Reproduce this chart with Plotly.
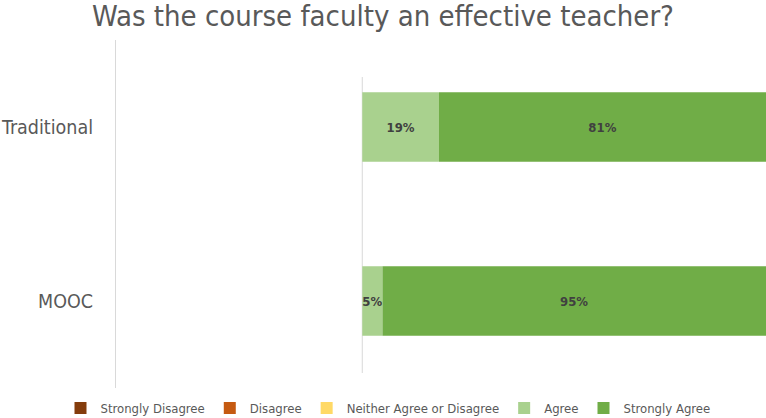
import plotly.graph_objects as go

categories = ["MOOC", "Traditional"]
series_names = ["Strongly Disagree", "Disagree", "Neither Agree or Disagree", "Agree", "Strongly Agree"]
strongly_disagree = [0, 0]
disagree = [0, 0]
neither = [0, 0]
agree = [5, 19]
strongly_agree = [95, 81]
colors = ["#843C0C", "#C55A11", "#FFD966", "#A9D18E", "#70AD47"]

FONT = "DejaVu Sans Condensed, DejaVu Sans, sans-serif"
W, H = 766, 418

values = [
    [-v for v in strongly_disagree],
    [-v for v in disagree],
    [-v for v in neither],
    agree,
    strongly_agree,
]

fig = go.Figure()
for name, vals, col in zip(series_names, values, colors):
    texts = [f"{abs(v)}%" if v != 0 else "" for v in vals]
    fig.add_trace(go.Bar(
        y=categories, x=vals, name=name, orientation="h",
        marker=dict(color=col, line=dict(width=0)),
        text=texts, textposition="inside", insidetextanchor="middle",
        textangle=0, constraintext="none",
        textfont=dict(family=FONT, size=13, color="#404040", weight="bold"),
        hoverinfo="skip",
    ))

fig.add_shape(type="line", xref="x", yref="paper", x0=0, x1=0,
              y0=15/348, y1=311/348, line=dict(color="#D9D9D9", width=1), layer="below")

fig.update_layout(
    width=W, height=H,
    barmode="relative", bargap=0.6,
    plot_bgcolor="white", paper_bgcolor="white",
    margin=dict(l=116, r=0, t=40, b=30, autoexpand=False),
    title=dict(text="Was the course faculty an effective teacher?",
               x=383/W, xref="container", xanchor="center",
               y=1 - 16/H, yref="container", yanchor="middle",
               font=dict(family=FONT, size=29, color="#595959")),
    xaxis=dict(range=[-61, 100], showgrid=False, showticklabels=False, ticks="",
               zeroline=False, fixedrange=True),
    yaxis=dict(showgrid=False, showline=True, linecolor="#D9D9D9", linewidth=1,
               ticks="", ticklabelstandoff=18, fixedrange=True,
               tickfont=dict(family=FONT, size=19.5, color="#595959")),
    legend=dict(orientation="h", xref="container", yref="container",
                x=388/W, xanchor="center", y=10/H, yanchor="middle",
                font=dict(family=FONT, size=13, color="#595959"),
                itemwidth=30, tracegroupgap=0),
)

fig.write_html("out.html", config={"displayModeBar": False},
               post_script="document.body.style.margin='0';")
